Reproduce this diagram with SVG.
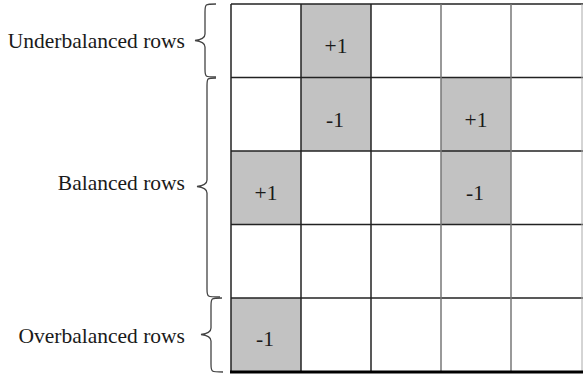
<svg xmlns="http://www.w3.org/2000/svg" width="583" height="377" viewBox="0 0 583 377">
<style>
.lbl{font-family:"Liberation Serif","Times New Roman",serif;font-size:21.5px;fill:#1a1a1a}
.val{font-family:"Liberation Serif","Times New Roman",serif;font-size:21.5px;fill:#1a1a1a;text-anchor:middle}
.cell{fill:#c2c2c2}
.brace{fill:none;stroke:#444;stroke-width:1.3}
</style>
<rect width="583" height="377" fill="#fff"/>
<g id="cells">
<rect class="cell" x="301" y="4" width="70" height="73.5"/>
<rect class="cell" x="301" y="77.5" width="70" height="73.5"/>
<rect class="cell" x="441" y="77.5" width="70" height="73.5"/>
<rect class="cell" x="231" y="151" width="70" height="73.5"/>
<rect class="cell" x="441" y="151" width="70" height="73.5"/>
<rect class="cell" x="231" y="298" width="70" height="73.5"/>
</g>
<g id="grid">
<g stroke="#222" stroke-width="1.5">
<line x1="231" y1="4" x2="583" y2="4"/>
<line x1="231" y1="77.5" x2="583" y2="77.5"/>
<line x1="231" y1="151" x2="583" y2="151"/>
<line x1="231" y1="224.5" x2="583" y2="224.5"/>
<line x1="231" y1="298" x2="583" y2="298"/>
<line x1="231" y1="4" x2="231" y2="372"/>
<line x1="301" y1="4" x2="301" y2="372"/>
<line x1="371" y1="4" x2="371" y2="372"/>
</g>
<g stroke="#777" stroke-width="1.5">
<line x1="441" y1="4" x2="441" y2="372"/>
<line x1="511" y1="4" x2="511" y2="372"/>
</g>
<line x1="582" y1="4" x2="582" y2="372" stroke="#aaa" stroke-width="1"/>
<line x1="230" y1="372" x2="583" y2="372" stroke="#000" stroke-width="3"/>
</g>
<g id="values">
<text class="val" x="336" y="52.5">+1</text>
<text class="val" x="335" y="127">-1</text>
<text class="val" x="476" y="127">+1</text>
<text class="val" x="266" y="200">+1</text>
<text class="val" x="475" y="200">-1</text>
<text class="val" x="265" y="346">-1</text>
</g>
<g id="underbalanced">
<path class="brace" d="M216,4 C205,4 205,4 205,12 L205,34 C205,39 199,40 195,40.5 C199,41 205,42 205,47 L205,69 C205,77 205,77 216,77"/>
<text class="lbl" x="185" y="48" text-anchor="end">Underbalanced rows</text>
</g>
<g id="balanced">
<path class="brace" d="M216,78 C207,78 207,78 207,86 L207,180 C207,185 201,186 197,186.5 C201,187 207,188 207,193 L207,289 C207,297 207,297 220,297"/>
<text class="lbl" x="185" y="190" text-anchor="end">Balanced rows</text>
</g>
<g id="overbalanced">
<path class="brace" d="M222,298 C211,298 211,298 211,306 L211,328 C211,333 205,334 201,334.5 C205,335 211,336 211,341 L211,364 C211,372 211,372 223,372"/>
<text class="lbl" x="185" y="343" text-anchor="end">Overbalanced rows</text>
</g>
</svg>
